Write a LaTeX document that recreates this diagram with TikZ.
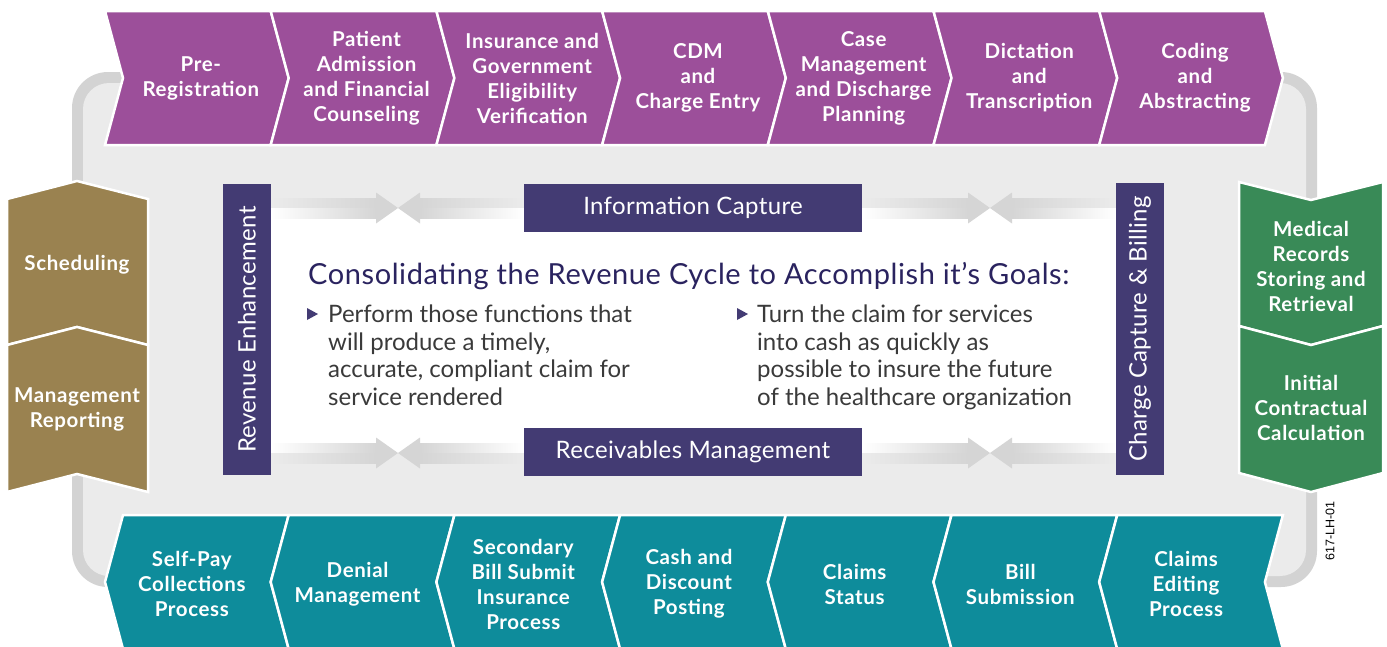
\documentclass[tikz,border=0pt]{standalone}
\usepackage{fontspec}
\setmainfont{Lato}
\newfontfamily\codefont{Liberation Sans}
\usetikzlibrary{positioning,calc}

\definecolor{purp}{HTML}{9C4F9A}
\definecolor{gold}{HTML}{9A8250}
\definecolor{grn}{HTML}{398A57}
\definecolor{tealc}{HTML}{0E8C9B}
\definecolor{navy}{HTML}{433B73}
\definecolor{headc}{HTML}{2A235F}
\definecolor{bodyc}{HTML}{3A3A3A}
\definecolor{framebg}{HTML}{EBEBEB}
\definecolor{framedk}{HTML}{D3D3D3}
\definecolor{arrgray}{HTML}{D5D5D5}

\begin{document}
\begin{tikzpicture}[x=1pt,y=-1pt,
  lbl/.style={text=white,font=\bfseries\fontsize{20.5}{25}\selectfont\addfontfeature{LetterSpace=3},align=center,inner sep=0},
  piece/.style={draw=white,line width=2.5pt},
  bar/.style={fill=navy,text=white,font=\fontsize{24}{28}\selectfont\addfontfeature{LetterSpace=1.5},inner sep=0},
  goal/.style={anchor=north west,text=bodyc,font=\fontsize{24}{27.5}\selectfont,align=left,inner sep=0}]

\useasboundingbox (0,0) rectangle (1387,646);

% grey track behind everything
\fill[framedk,rounded corners=36pt] (72,72) rectangle (1317,587);
\fill[framebg,rounded corners=26pt] (83,83) rectangle (1306,576);

% top row
\foreach \i/\txt in {0/{Pre-\\Registration},1/{Patient\\Admission\\and Financial\\Counseling},2/{Insurance and\\Government\\Eligibility\\Verification},3/{CDM\\and\\Charge Entry},4/{Case\\Management\\and Discharge\\Planning},5/{Dictation\\and\\Transcription},6/{Coding\\and\\Abstracting}}{
	\pgfmathsetmacro\a{105+165.7*\i}
	\pgfmathsetmacro\b{\a+165.7}
	\fill[purp,piece] (\a,11) -- (\a+18,78) -- (\a,145) -- (\b,145) -- (\b+18,78) -- (\b,11) -- cycle;
	\node[lbl] (top\i) at ({(\a+\b)/2+13},78) {\txt};
}

% bottom row
\foreach \i/\txt in {0/{Self-Pay\\Collections\\Process},1/{Denial\\Management},2/{Secondary\\Bill Submit\\Insurance\\Process},3/{Cash and\\Discount\\Posting},4/{Claims\\Status},5/{Bill\\Submission},6/{Claims\\Editing\\Process}}{
	\pgfmathsetmacro\a{123+165.7*\i}
	\pgfmathsetmacro\b{\a+165.7}
	\fill[tealc,piece] (\a,515) -- (\a-18,582) -- (\a,649) -- (\b,649) -- (\b-18,582) -- (\b,515) -- cycle;
	\node[lbl] (bot\i) at ({(\a+\b)/2-14},584) {\txt};
}

% left column
\fill[gold,piece] (7,199) -- (77,181) -- (148,199) -- (148,345) -- (77,327) -- (7,345) -- cycle;
\node[lbl] (sched) at (77,265) {Scheduling};
\fill[gold,piece] (7,345) -- (77,327) -- (148,345) -- (148,492) -- (77,474) -- (7,492) -- cycle;
\node[lbl] (mgmt) at (77,409) {Management\\Reporting};

% right column
\fill[grn,piece] (1239,182) -- (1311,200) -- (1383,182) -- (1383,326) -- (1311,345) -- (1239,326) -- cycle;
\node[lbl] (medrec) at (1311,266) {Medical\\Records\\Storing and\\Retrieval};
\fill[grn,piece] (1239,326) -- (1311,345) -- (1383,326) -- (1383,473) -- (1311,492) -- (1239,473) -- cycle;
\node[lbl] (initcalc) at (1311,408) {Initial\\Contractual\\Calculation};

% centre panel
\fill[white] (271,208) rectangle (1116,453);

\foreach \cx/\cy/\up/\dn in {398/208/framebg/white,990/208/framebg/white,398/453/white/framebg,990/453/white/framebg}{
	\shade[left color=\up,right color=arrgray] (\cx-127,\cy-10) rectangle (\cx-22,\cy);
	\shade[left color=\dn,right color=arrgray] (\cx-127,\cy) rectangle (\cx-22,\cy+10);
	\shade[left color=arrgray,right color=\up] (\cx+22,\cy-10) rectangle (\cx+126,\cy);
	\shade[left color=arrgray,right color=\dn] (\cx+22,\cy) rectangle (\cx+126,\cy+10);
	\fill[arrgray] (\cx,\cy) -- (\cx-22,\cy-15.5) -- (\cx-22,\cy+15.5) -- cycle;
	\fill[arrgray] (\cx,\cy) -- (\cx+22,\cy-15.5) -- (\cx+22,\cy+15.5) -- cycle;
}

\node[bar,rotate=90,minimum width=291pt,minimum height=48pt] (revenh) at (247,329.5) {Revenue Enhancement};
\node[bar,rotate=90,minimum width=292pt,minimum height=48pt] (chgcap) at (1140,329) {Charge Capture \& Billing};
\node[bar,minimum width=338pt,minimum height=48pt] (infocap) at (693,208) {Information Capture};
\node[bar,minimum width=338pt,minimum height=48pt] (recmgmt) at (693,452) {Receivables Management};

\node[anchor=base west,text=headc,font=\fontsize{29}{34}\selectfont\addfontfeature{LetterSpace=2},inner sep=0] (heading) at (308,284) {Consolidating the Revenue Cycle to Accomplish it’s Goals:};

\node[goal] (goalA) at (328,305) {Perform those functions that\\will produce a timely,\\accurate, compliant claim for\\service rendered};
\node[goal] (goalB) at (757,305) {Turn the claim for services\\into cash as quickly as\\possible to insure the future\\of the healthcare organization};
\fill[navy] (307,308) -- (318,314) -- (307,320) -- cycle;
\fill[navy] (737,308) -- (748,314) -- (737,320) -- cycle;

\node[rotate=90,font=\codefont\fontsize{12.5}{14}\selectfont,inner sep=0] (code) at (1330,531) {617-LH-01};
\end{tikzpicture}
\end{document}
